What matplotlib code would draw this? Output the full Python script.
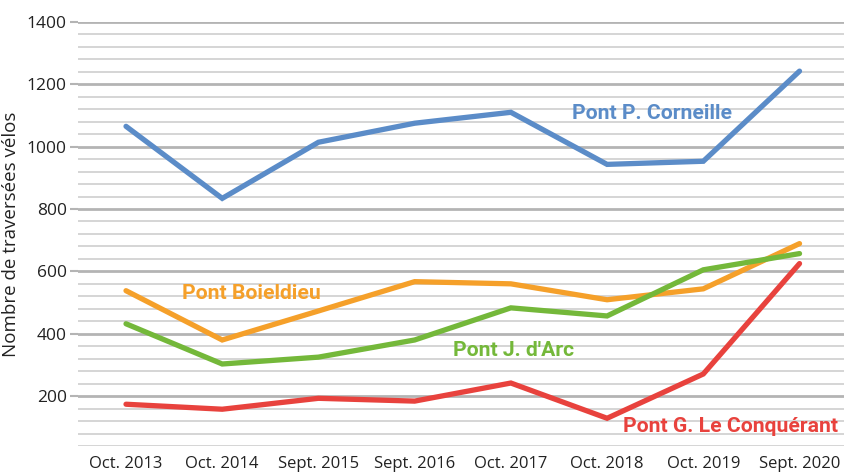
#!/usr/bin/env python3

import matplotlib.pyplot as plt
import numpy as np

periods = ["Oct. 2013", "Oct. 2014", "Sept. 2015", "Sept. 2016",
           "Oct. 2017", "Oct. 2018", "Oct. 2019", "Sept. 2020"]

corneille = [1065, 834, 1014, 1075, 1110, 943, 953, 1242]
boieldieu = [538, 380, 473, 567, 560, 509, 544, 689]
jeanne_arc = [432, 303, 325, 380, 483, 457, 605, 657]
conquerant = [174, 158, 193, 184, 242, 129, 271, 625]

series = [
    ("Pont P. Corneille", corneille, "#5b8cc8", (4.64, 1107)),
    ("Pont Boieldieu", boieldieu, "#f5a02a", (0.58, 528)),
    ("Pont J. d'Arc", jeanne_arc, "#74b83a", (3.40, 345)),
    ("Pont G. Le Conquérant", conquerant, "#e8423d", (5.17, 103)),
]


def main() -> None:
    fig = plt.figure(figsize=(8.44, 4.75), dpi=100)
    ax = fig.add_axes([0.0923, 0.061, 0.912, 0.893])

    x = np.arange(len(periods))

    # background grid: light lines every 40, darker every 200
    for v in range(40, 1401, 40):
        major = v % 200 == 0
        ax.axhline(v, color="#b4b4b4" if major else "#d2d2d2",
                   lw=2.0 if major else 1.3, zorder=0)

    for name, vals, color, (tx, ty) in series:
        ax.plot(x, vals, color=color, lw=3.8, solid_capstyle="round",
                solid_joinstyle="miter", zorder=3)
        ax.text(tx, ty, name, color=color, fontsize=15.2, fontweight="bold",
                family="Roboto", va="center", ha="left", zorder=4)

    ax.set_xlim(-0.5, 7.5)
    ax.set_ylim(40, 1400)
    ax.set_xticks(x)
    ax.set_xticklabels(periods, family="Open Sans", fontsize=12, color="#222222")
    ax.set_yticks(range(200, 1401, 200))
    ax.set_yticklabels([str(v) for v in range(200, 1401, 200)],
                       family="Open Sans", fontsize=12.5, color="#222222")
    ax.tick_params(axis="x", length=0, pad=7)
    ax.tick_params(axis="y", length=6, width=1.5, color="#b4b4b4", pad=2)
    ax.set_ylabel("Nombre de traversées vélos", family="Open Sans",
                  fontsize=13.5, color="#222222", labelpad=5)
    for s in ax.spines.values():
        s.set_visible(False)

    fig.savefig("out.png", dpi=100)


if __name__ == "__main__":
    main()
